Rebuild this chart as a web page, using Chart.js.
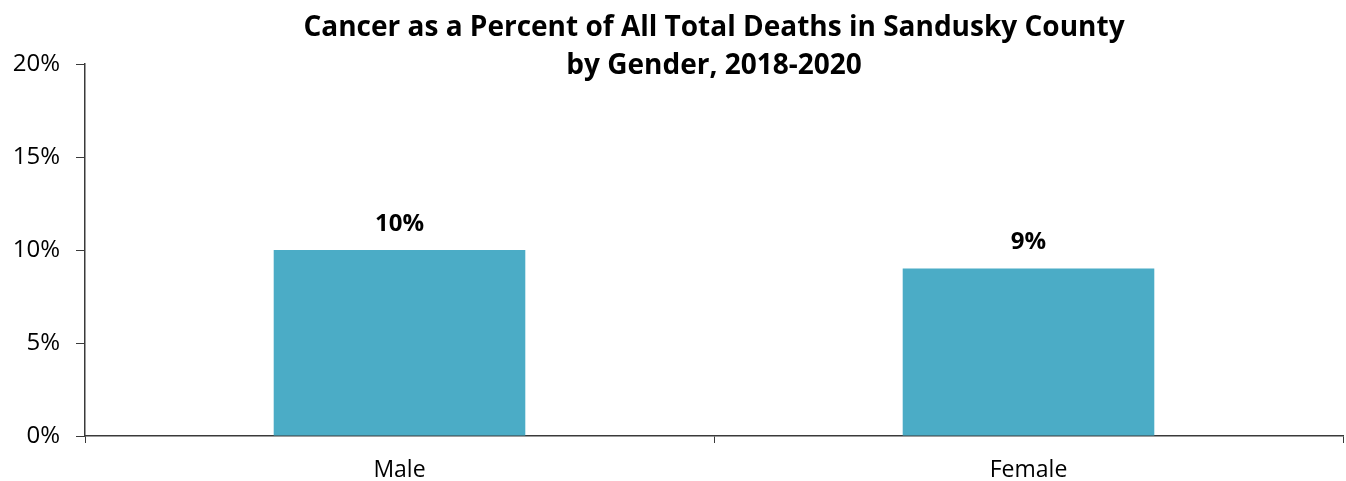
<!DOCTYPE html>
<html>
<head>
<meta charset="utf-8">
<script src="https://cdn.jsdelivr.net/npm/chart.js@4/dist/chart.umd.min.js"></script>
<style>
  html, body { margin: 0; padding: 0; background: #fff; }
  #wrap { width: 1346px; height: 481px; position: relative; }
</style>
</head>
<body>
<div id="wrap"><canvas id="chart"></canvas></div>
<script>
const categories = ['Male', 'Female'];
const cancerPct = [10, 9];
const yTicks = [0, 5, 10, 15, 20];
const titleLines = ['Cancer as a Percent of All Total Deaths in Sandusky County', 'by Gender, 2018-2020'];

const FONT = "'Open Sans', 'Noto Sans', sans-serif";
const AXIS = '#3a3a3a';

// title sits over the plot, centred on the chart area like the original
const titlePlugin = {
  id: 'titlePlugin',
  afterDraw(chart) {
    const { ctx, chartArea } = chart;
    const cx = (chartArea.left + chartArea.right) / 2;
    ctx.save();
    ctx.fillStyle = '#000';
    ctx.font = 'bold 28px ' + FONT;
    ctx.textAlign = 'center';
    ctx.textBaseline = 'middle';
    titleLines.forEach((t, i) => ctx.fillText(t, cx, 28 + i * 38));
    ctx.restore();
  }
};

const valueLabels = {
  id: 'valueLabels',
  afterDatasetsDraw(chart) {
    const { ctx } = chart;
    const meta = chart.getDatasetMeta(0);
    ctx.save();
    ctx.fillStyle = '#000';
    ctx.font = 'bold 24px ' + FONT;
    ctx.textAlign = 'center';
    ctx.textBaseline = 'middle';
    meta.data.forEach((bar, i) => {
      ctx.fillText(cancerPct[i] + '%', bar.x, bar.y - 26);
    });
    ctx.restore();
  }
};

new Chart(document.getElementById('chart'), {
  type: 'bar',
  data: {
    labels: categories,
    datasets: [{
      data: cancerPct,
      backgroundColor: '#4BACC6',
      borderWidth: 0,
      barPercentage: 0.4,
      categoryPercentage: 1
    }]
  },
  options: {
    responsive: true,
    maintainAspectRatio: false,
    animation: false,
    layout: { padding: { top: 64, right: 3, left: 0, bottom: 0 } },
    plugins: { legend: { display: false }, tooltip: { enabled: false }, title: { display: false } },
    scales: {
      x: {
        afterFit: (s) => { s.height = 45; },
        grid: { display: true, drawOnChartArea: false, drawTicks: true, tickLength: 7, color: AXIS, offset: true },
        border: { display: true, color: AXIS, width: 1.5 },
        ticks: { color: '#000', font: { family: FONT, size: 23 }, padding: 14 }
      },
      y: {
        min: 0,
        max: 20,
        afterFit: (s) => { s.width = 85; },
        afterBuildTicks: (s) => { s.ticks = yTicks.map(v => ({ value: v })); },
        grid: { display: true, drawOnChartArea: false, drawTicks: true, tickLength: 9, color: AXIS },
        border: { display: true, color: AXIS, width: 1.5 },
        ticks: { color: '#000', font: { family: FONT, size: 24 }, padding: 16, callback: (v) => v + '%' }
      }
    }
  },
  plugins: [titlePlugin, valueLabels]
});
</script>
</body>
</html>
